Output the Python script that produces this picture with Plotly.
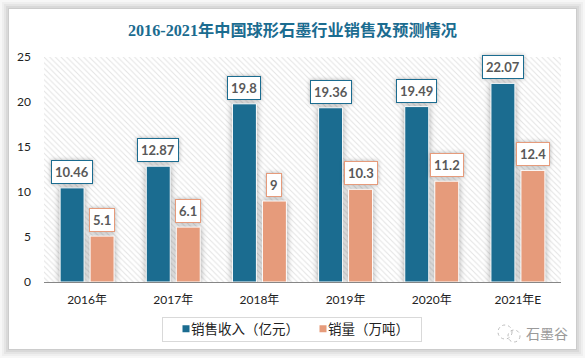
import plotly.graph_objects as go

categories = ["2016年", "2017年", "2018年", "2019年", "2020年", "2021年E"]
revenue = [10.46, 12.87, 19.8, 19.36, 19.49, 22.07]
volume = [5.1, 6.1, 9, 10.3, 11.2, 12.4]
revenue_labels = ["10.46", "12.87", "19.8", "19.36", "19.49", "22.07"]
volume_labels = ["5.1", "6.1", "9", "10.3", "11.2", "12.4"]
BLUE = "#1B6C90"
ORANGE = "#E69B7B"
W = 586
H = 359
L, R, T, B = 44, 561, 57, 282


def px(v):
    return (v - L) / (R - L)


def py(v):
    return (B - v) / (B - T)


fig = go.Figure()
# hatched plot background, on the lower subplot so the bars sit above it
fig.add_trace(go.Bar(x=[0.5], y=[1], width=[1], xaxis="x", yaxis="y", showlegend=False, hoverinfo="skip",
                     marker=dict(color="white", line_width=0,
                                 pattern=dict(shape="\\", size=4, solidity=0.25, fgcolor="#c8c8c8", bgcolor="white"))))
fig.add_trace(go.Bar(x=categories, y=revenue, name="销售收入（亿元）", xaxis="x2", yaxis="y2",
                     marker=dict(color=BLUE, line=dict(color="white", width=1))))
fig.add_trace(go.Bar(x=categories, y=volume, name="销量（万吨）", xaxis="x2", yaxis="y2",
                     marker=dict(color=ORANGE, line=dict(color="white", width=1))))

label_font = dict(family="Lato, Noto Sans CJK SC", size=13, color="#595959")
ann = []
for i, c in enumerate(categories):
    ann.append(dict(x=c, y=revenue[i], text=f"<b>{revenue_labels[i]}</b>", xref="x2", yref="y2", xanchor="center", yanchor="bottom",
                    xshift=-15, yshift=4, showarrow=False, bgcolor="white", bordercolor=BLUE, borderwidth=1, borderpad=3,
                    font=label_font))
    ann.append(dict(x=c, y=volume[i], text=f"<b>{volume_labels[i]}</b>", xref="x2", yref="y2", xanchor="center", yanchor="bottom",
                    xshift=15, yshift=4, showarrow=False, bgcolor="white", bordercolor=ORANGE, borderwidth=1, borderpad=3,
                    font=label_font))
ann.append(dict(x=px(547), y=py(333), xref="paper", yref="paper", xanchor="center", yanchor="middle", showarrow=False,
                text="石墨谷", font=dict(family="Noto Sans CJK SC", size=14, color="#9a9a9a")))

shapes = []
# card
for grow, op in [(9, .03), (7, .03), (5, .04), (3, .05), (1, .06)]:
    shapes.append(dict(type="rect", xref="paper", yref="paper", layer="below", x0=px(9 - grow), x1=px(576 + grow),
                       y0=py(349 + grow), y1=py(9 - grow), line_width=0, fillcolor=f"rgba(0,0,0,{op})"))
shapes.append(dict(type="rect", xref="paper", yref="paper", layer="below", x0=px(9), x1=px(576), y0=py(349), y1=py(9),
                   line_width=0, fillcolor="white"))
# watermark logo
for cx, cy, r in [(505, 332, 7), (514, 336, 6)]:
    shapes.append(dict(type="circle", xref="paper", yref="paper", x0=px(cx - r), x1=px(cx + r), y0=py(cy + r), y1=py(cy - r),
                       line=dict(color="#bdbdbd", width=1, dash="dot"), fillcolor="rgba(255,255,255,0)"))

fig.update_layout(
    width=W, height=H, autosize=False,
    margin=dict(l=L, r=W - R, t=T, b=H - B, autoexpand=False),
    paper_bgcolor="white", plot_bgcolor="rgba(0,0,0,0)",
    barmode="group", bargap=0.304, bargroupgap=0.2,
    title=dict(text="<b>2016-2021年中国球形石墨行业销售及预测情况</b>", x=292.5 / W, xanchor="center", xref="container",
               y=1 - 30 / H, yanchor="middle",
               font=dict(family="Liberation Serif, Noto Sans CJK SC", size=16.2, color=BLUE)),
    xaxis=dict(domain=[0, 1], range=[0, 1], visible=False, anchor="y"),
    yaxis=dict(domain=[0, 1], range=[0, 1], visible=False, anchor="x"),
    xaxis2=dict(domain=[0, 1], type="category", showgrid=False, showline=True, linecolor="#868686", linewidth=1, ticks="",
                tickfont=dict(family="Lato, Noto Sans CJK SC", size=12, color="#222222"), ticklabelstandoff=7, anchor="y2", automargin=False),
    yaxis2=dict(domain=[0, 1], range=[0, 25], dtick=5, showgrid=False, zeroline=False, showline=False, ticks="",
                tickfont=dict(family="Lato, Noto Sans CJK SC", size=12, color="#222222"), ticklabelstandoff=12, anchor="x2", automargin=False),
    legend=dict(orientation="h", x=px(292.5), xanchor="center", y=py(329), yanchor="middle", bordercolor="#d9d9d9", borderwidth=1,
                bgcolor="white", font=dict(family="Noto Sans CJK SC", size=13.5, color="#222222"), itemwidth=30),
    annotations=ann, shapes=shapes,
)
post = """
document.body.style.margin='0';
document.querySelectorAll('.bars .point path').forEach(function(p,i){ if(i>0) p.style.filter='drop-shadow(0 0 3px rgba(0,0,0,.35))'; });
document.querySelectorAll('.annotation rect').forEach(function(p){ p.style.filter='drop-shadow(0 0 2px rgba(0,0,0,.3))'; });
var dx=[-2,-18];
document.querySelectorAll('.legend .traces').forEach(function(t,i){
  var m=/translate\\(([-\\d.]+),\\s*([-\\d.]+)\\)/.exec(t.getAttribute('transform'));
  t.setAttribute('transform','translate('+(parseFloat(m[1])+dx[i])+','+m[2]+')');
  t.querySelectorAll('.legendpoints path').forEach(function(p){
    p.setAttribute('d','M3.5,3.5H-3.5V-3.5H3.5Z');
    p.style.strokeWidth='0';
    p.setAttribute('transform','translate(35,0)');
  });
});
var bg=document.querySelector('.legend .bg');
var h=parseFloat(bg.getAttribute('height')), y=parseFloat(bg.getAttribute('y')||0);
bg.setAttribute('x',10); bg.setAttribute('width',259);
bg.setAttribute('y',y+(h-24)/2); bg.setAttribute('height',24);
"""
fig.write_html("out.html", post_script=post, config=dict(displayModeBar=False))
